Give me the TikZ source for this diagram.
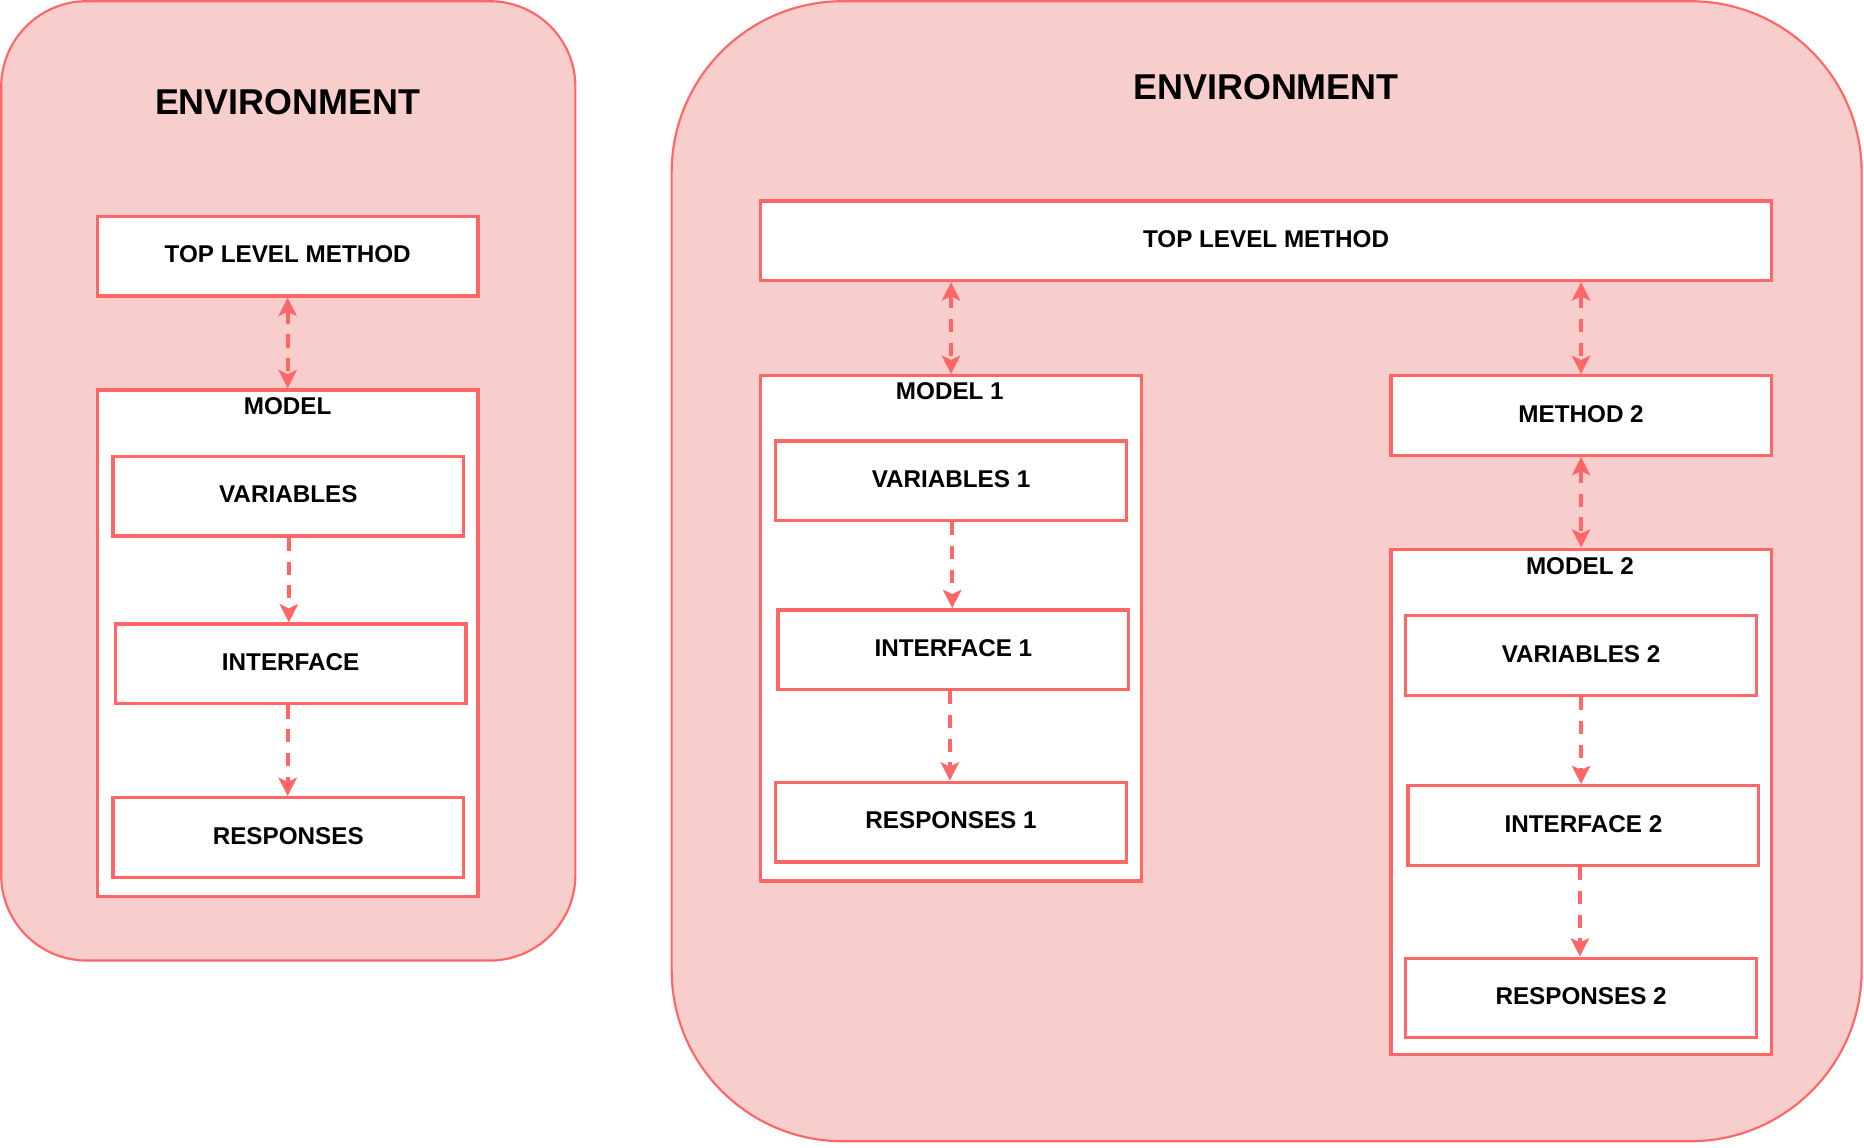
\documentclass[tikz,border=0pt]{standalone}
\usepackage{fontspec}
\setmainfont{Liberation Sans}
\usetikzlibrary{arrows.meta,calc}
\definecolor{envfill}{HTML}{F8CECC}
\definecolor{redline}{HTML}{FF6666}
\tikzset{
  env/.style={draw=redline, fill=envfill, line width=0.9pt, inner sep=0pt},
  box/.style={draw=redline, fill=white, line width=1.4pt, minimum width=147.5pt, minimum height=33.5pt, inner sep=0pt, text height=7.4pt, text depth=1.8pt, font=\fontsize{10.2pt}{12pt}\selectfont\bfseries},
  container/.style={draw=redline, fill=white, line width=1.4pt, minimum width=160pt, inner sep=0pt},
  lbl/.style={inner sep=0pt, font=\fontsize{10.2pt}{12pt}\selectfont\bfseries},
  title/.style={inner sep=0pt, font=\fontsize{15.1pt}{18pt}\selectfont\bfseries},
  tip/.tip={Stealth[length=7.7pt,width=7.7pt,inset=1.8pt]},
  arr/.style={draw=redline, line width=1.6pt, dash pattern=on 5.5pt off 4.5pt, -tip},
  barr/.style={arr, tip-tip}
}
\begin{document}
\begin{tikzpicture}[x=0.5pt,y=-0.5pt]
\useasboundingbox (0,0) rectangle (1568,965);
% left environment
\node[env, rounded corners=36pt, minimum width=241.5pt, minimum height=403.5pt] (envL) at (242.5,404.5) {};
\node[title] (titleL) at (242,86) {ENVIRONMENT};
\node[box, minimum width=160pt] (tlmL) at (242,215.5) {TOP LEVEL METHOD};
\node[container, minimum height=213pt] (modelL) at (242,541) {};
\node[lbl] (modelLlbl) at (242,342) {MODEL};
\node[box] (varL) at (242.5,417.5) {VARIABLES};
\node[box] (intL) at (244.5,558.5) {INTERFACE};
\node[box] (resL) at (242.5,704.5) {RESPONSES};
\draw[barr] (tlmL.south) -- (tlmL.south |- modelL.north);
\draw[arr] ($(varL.south)+(0.5,0)$) coordinate (vLs) -- (vLs |- intL.north);
\draw[arr] ($(intL.south)+(-2.5,0)$) coordinate (iLs) -- (iLs |- resL.north);
% right environment
\node[env, rounded corners=72pt, minimum width=500.5pt, minimum height=479.5pt] (envR) at (1065.5,480.5) {};
\node[title] (titleR) at (1065,73) {ENVIRONMENT};
\node[box, minimum width=425pt] (tlmR) at (1065,202.5) {TOP LEVEL METHOD};
\node[container, minimum height=212.5pt] (model1) at (800,528.5) {};
\node[lbl] (model1lbl) at (799,329) {MODEL 1};
\node[box] (var1) at (800,404.5) {VARIABLES 1};
\node[box] (int1) at (802,546.5) {INTERFACE 1};
\node[box] (res1) at (800,691.5) {RESPONSES 1};
\node[box, minimum width=160pt] (method2) at (1330,349.5) {METHOD 2};
\node[container, minimum height=212.5pt] (model2) at (1330,674.5) {};
\node[lbl] (model2lbl) at (1329,476) {MODEL 2};
\node[box] (var2) at (1330,551.5) {VARIABLES 2};
\node[box] (int2) at (1332,694.5) {INTERFACE 2};
\node[box] (res2) at (1330,839.5) {RESPONSES 2};
\draw[barr] (model1.north |- tlmR.south) -- (model1.north);
\draw[barr] (method2.north |- tlmR.south) -- (method2.north);
\draw[barr] (method2.south) -- (model2.north);
\draw[arr] ($(var1.south)+(1,0)$) coordinate (v1s) -- (v1s |- int1.north);
\draw[arr] ($(int1.south)+(-3,0)$) coordinate (i1s) -- (i1s |- res1.north);
\draw[arr] (var2.south) -- (var2.south |- int2.north);
\draw[arr] ($(int2.south)+(-3,0)$) coordinate (i2s) -- (i2s |- res2.north);
\end{tikzpicture}
\end{document}
